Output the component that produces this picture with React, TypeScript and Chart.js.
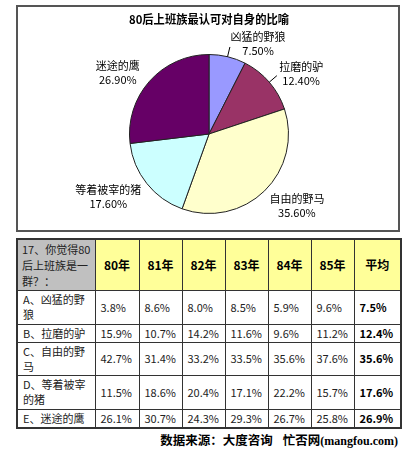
import React, { useEffect, useRef } from 'react';
import { Chart, registerables } from 'chart.js';

Chart.register(...registerables);

const chartTitle = '80后上班族最认可对自身的比喻';
const pieLabels = ['凶猛的野狼', '拉磨的驴', '自由的野马', '等着被宰的猪', '迷途的鹰'];
const pieValues = [7.5, 12.4, 35.6, 17.6, 26.9];
const pieColors = ['#9999FF', '#993366', '#FFFFCC', '#CCFFFF', '#660066'];

const tableQuestion = '17、你觉得80后上班族是一群？：';
const yearHeaders = ['80年', '81年', '82年', '83年', '84年', '85年', '平均'];
const rowLabels = ['A、凶猛的野狼', 'B、拉磨的驴', 'C、自由的野马', 'D、等着被宰的猪', 'E、迷途的鹰'];
const wolfRow = [3.8, 8.6, 8.0, 8.5, 5.9, 9.6, 7.5];
const donkeyRow = [15.9, 10.7, 14.2, 11.6, 9.6, 11.2, 12.4];
const horseRow = [42.7, 31.4, 33.2, 33.5, 35.6, 37.6, 35.6];
const pigRow = [11.5, 18.6, 20.4, 17.1, 22.2, 15.7, 17.6];
const eagleRow = [26.1, 30.7, 24.3, 29.3, 26.7, 25.8, 26.9];
const sourceCn1 = '数据来源：大度咨询';
const sourceCn2 = '忙否网';
const sourceEn = '(mangfou.com)';

const CJK = '"Noto Sans CJK SC", "Noto Sans", sans-serif';

const outLabelPlugin = {
  id: 'outLabels',
  afterDatasetsDraw(chart: any) {
    const ctx = chart.ctx;
    const meta = chart.getDatasetMeta(0);
    const ds = chart.data.datasets[0];
    ctx.save();
    ctx.font = `11px ${CJK}`;
    ctx.fillStyle = '#000';
    ctx.strokeStyle = '#000';
    ctx.lineWidth = 1;
    ctx.textBaseline = 'middle';
    ctx.textAlign = 'center';
    meta.data.forEach((arc: any, i: number) => {
      const p = arc.getProps(['x', 'y', 'startAngle', 'endAngle', 'outerRadius'], true);
      const mid = (p.startAngle + p.endAngle) / 2;
      const cos = Math.cos(mid);
      const sin = Math.sin(mid);
      const lower = sin > 0;
      const dx = p.outerRadius + (lower ? 7 : 13);
      const dy = p.outerRadius + (lower ? 21 : 13);
      const ax = p.x + dx * cos;
      const ay = p.y + dy * sin;
      const value = ds.data[i] as number;
      const lines = [String(chart.data.labels[i]), value.toFixed(2) + '%'];
      const w = Math.max(...lines.map((l) => ctx.measureText(l).width));
      const left = cos >= 0 ? ax : ax - w;
      const cx = left + w / 2;
      const lh = 13.5;
      lines.forEach((l, k) => ctx.fillText(l, cx, ay + (k - 0.5) * lh));
      if (value < 15) {
        ctx.beginPath();
        ctx.moveTo(p.x + p.outerRadius * cos, p.y + p.outerRadius * sin);
        ctx.lineTo(p.x + (p.outerRadius + 10) * cos, p.y + (p.outerRadius + 10) * sin);
        ctx.stroke();
      }
    });
    ctx.restore();
  },
};

function PieChart() {
  const ref = useRef<HTMLCanvasElement | null>(null);
  useEffect(() => {
    if (!ref.current) return;
    const chart = new Chart(ref.current, {
      type: 'pie',
      data: {
        labels: pieLabels,
        datasets: [
          {
            data: pieValues,
            backgroundColor: pieColors,
            borderColor: '#222',
            borderWidth: 1,
          },
        ],
      },
      options: {
        responsive: false,
        animation: false,
        devicePixelRatio: 1,
        layout: { padding: { left: 111, right: 109, top: 0, bottom: 16 } },
        plugins: {
          legend: { display: false },
          tooltip: { enabled: false },
          title: {
            display: true,
            text: chartTitle,
            color: '#000',
            font: { family: CJK, size: 12, weight: 'bold' },
            padding: { top: 5, bottom: 27.6 },
          },
        },
      } as any,
      plugins: [outLabelPlugin],
    });
    return () => chart.destroy();
  }, []);
  return <canvas ref={ref} width={380} height={223} style={{ display: 'block' }} />;
}

const tableRows = [wolfRow, donkeyRow, horseRow, pigRow, eagleRow];
const colWidths = [78, 44, 43, 43, 43, 43, 43, 47];
const rowHeights = [34, 18, 33, 34, 19];

export default function App() {
  const cell: React.CSSProperties = {
    border: '1px solid #333',
    padding: '0 2px 0 5px',
    fontSize: 11,
    lineHeight: '15px',
    verticalAlign: 'middle',
    fontFamily: CJK,
    color: '#222',
  };
  return (
    <div style={{ position: 'absolute', left: 0, top: 0, width: 415, height: 450, background: '#fff' }}>
      <div
        style={{
          position: 'absolute',
          left: 16,
          top: 5,
          width: 384,
          height: 227,
          boxSizing: 'border-box',
          border: '2px solid #555',
          background: '#fff',
        }}
      >
        <PieChart />
      </div>
      <table
        style={{
          position: 'absolute',
          left: 16,
          top: 238,
          width: 384,
          borderCollapse: 'collapse',
          tableLayout: 'fixed',
          border: '2px solid #333',
        }}
      >
        <colgroup>
          {colWidths.map((w, i) => (
            <col key={i} style={{ width: w }} />
          ))}
        </colgroup>
        <tbody>
          <tr style={{ height: 51 }}>
            <td style={{ ...cell, background: '#C0C0C0', lineHeight: '16px', padding: '0 0 0 4px', wordBreak: 'break-all' }}>
              {tableQuestion}
            </td>
            {yearHeaders.map((h) => (
              <td
                key={h}
                style={{ ...cell, padding: 0, background: '#FFFF99', textAlign: 'center', fontWeight: 'bold', fontSize: 12, color: '#000' }}
              >
                {h}
              </td>
            ))}
          </tr>
          {tableRows.map((row, r) => (
            <tr key={r} style={{ height: rowHeights[r] }}>
              <td style={{ ...cell, padding: '0 3px 0 5px' }}>{rowLabels[r]}</td>
              {row.map((v, c) => (
                <td
                  key={c}
                  style={{
                    ...cell,
                    fontWeight: c === row.length - 1 ? 'bold' : 'normal',
                    color: c === row.length - 1 ? '#000' : '#222',
                  }}
                >
                  {v.toFixed(1) + '%'}
                </td>
              ))}
            </tr>
          ))}
        </tbody>
      </table>
      <div
        style={{
          position: 'absolute',
          right: 17,
          top: 431,
          height: 18,
          lineHeight: '18px',
          fontWeight: 'bold',
          whiteSpace: 'nowrap',
          color: '#000',
        }}
      >
        <span style={{ fontFamily: CJK, fontSize: 12.5 }}>{sourceCn1}</span>
        <span style={{ fontFamily: CJK, fontSize: 12.5, marginLeft: 10 }}>{sourceCn2}</span>
        <span style={{ fontFamily: '"Liberation Serif", serif', fontSize: 12 }}>{sourceEn}</span>
      </div>
    </div>
  );
}
